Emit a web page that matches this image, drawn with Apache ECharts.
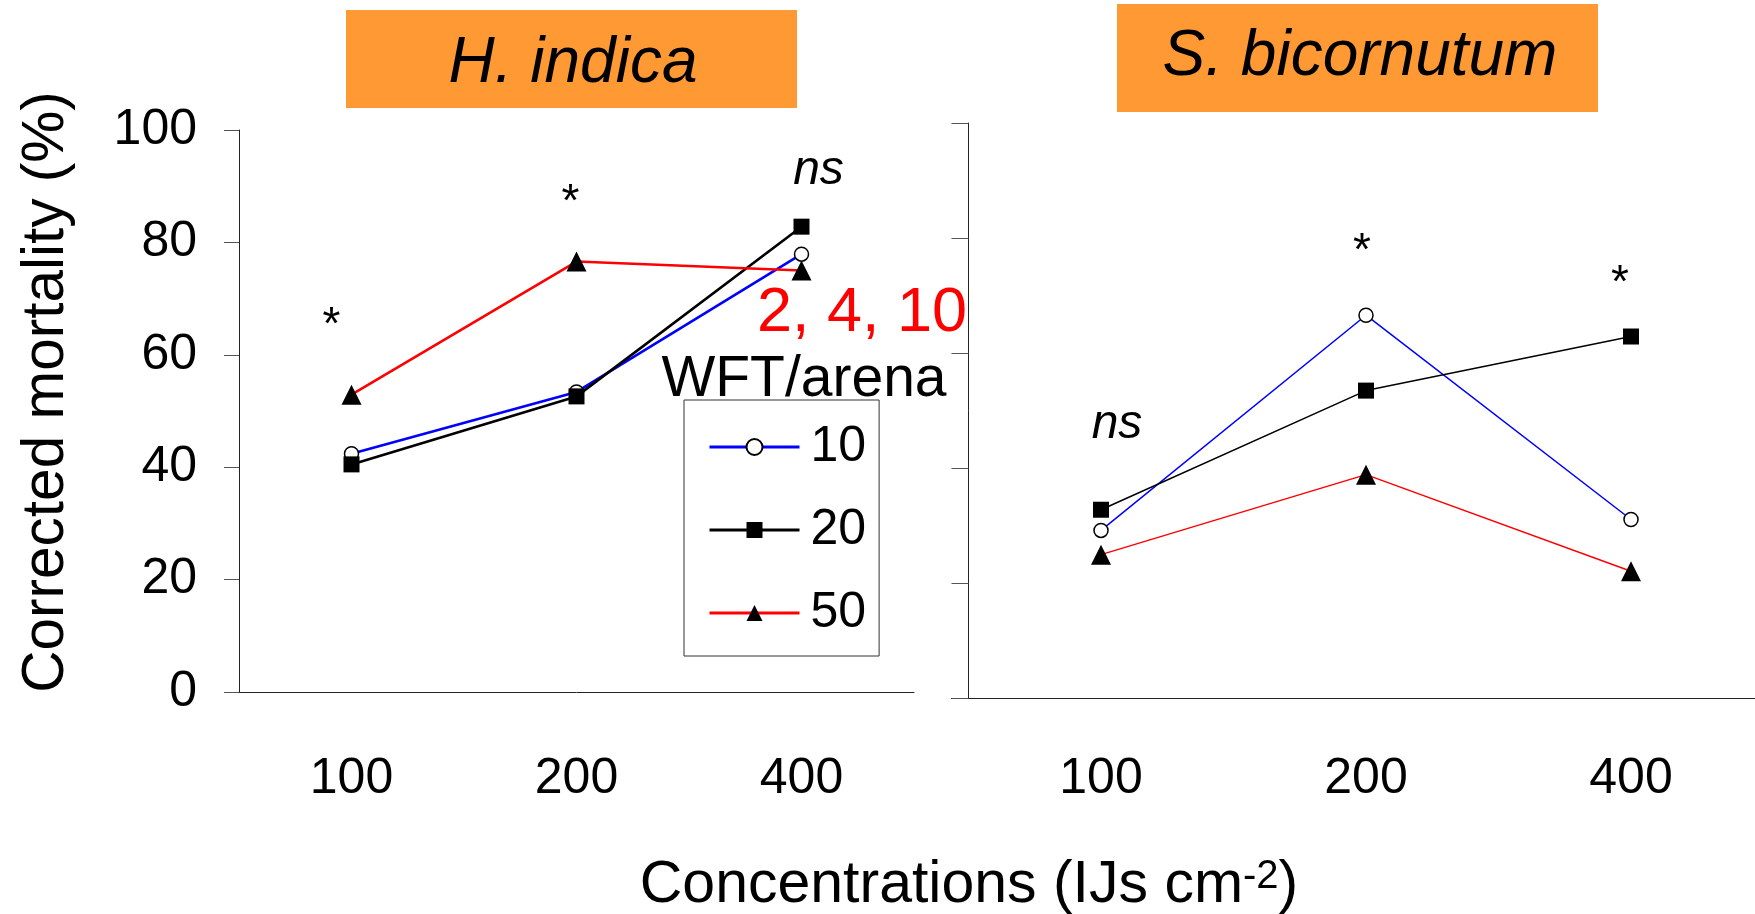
<!DOCTYPE html>
<html>
<head>
<meta charset="utf-8">
<title>Corrected mortality by concentration</title>
<script src="https://cdn.jsdelivr.net/npm/echarts@6/dist/echarts.min.js"></script>
<style>
  html, body { margin: 0; padding: 0; background: #fff; }
  #chart { width: 1755px; height: 914px; }
</style>
</head>
<body>
<div id="chart"></div>
<script>
// Concentrations (IJs cm-2) on the category axis
const categories = ['100', '200', '400'];
const yTicks = [0, 20, 40, 60, 80, 100];

// Corrected mortality (%) per WFT density (10, 20, 50 per arena)
const seriesNames = ['10', '20', '50'];
const hIndica10 = [42.4, 53.4, 77.9];
const hIndica20 = [40.5, 52.6, 82.8];
const hIndica50 = [52.9, 76.6, 75.0];
const sBicornutum10 = [29.2, 66.6, 31.1];
const sBicornutum20 = [32.8, 53.5, 62.9];
const sBicornutum50 = [25.0, 38.9, 22.1];

// Significance marks above each concentration
const marksHIndica = ['*', '*', 'ns'];
const marksHIndicaY = [65.1, 87.0, 92.8];
const marksSBicornutum = ['ns', '*', '*'];
const marksSBicornutumY = [47.6, 77.6, 72.0];

const panelTitles = ['H. indica', 'S. bicornutum'];
const legendTitle = 'WFT/arena';
const arenaNote = '2, 4, 10';

const FONT = "'Liberation Sans', Arial, Helvetica, sans-serif";
const colors = ['#0000ff', '#000000', '#ff0000'];
const symbols = ['circle', 'rect', 'triangle'];
const symbolSizes = [14, 16, 20];

const chart = echarts.init(document.getElementById('chart'), null, { renderer: 'canvas' });

function lineSeries(name, data, idx, axisIdx, width) {
  return {
    type: 'line',
    name: name,
    data: data,
    xAxisIndex: axisIdx,
    yAxisIndex: axisIdx,
    symbol: symbols[idx],
    symbolSize: symbolSizes[idx],
    showSymbol: true,
    lineStyle: { color: colors[idx], width: width },
    itemStyle: idx === 0
      ? { color: '#ffffff', borderColor: '#000000', borderWidth: 1.5 }
      : { color: '#000000', borderColor: '#000000', borderWidth: 0 },
    emphasis: { disabled: true },
    z: 3 + idx
  };
}

function markSeries(texts, ys, axisIdx, dx) {
  return {
    type: 'scatter',
    xAxisIndex: axisIdx,
    yAxisIndex: axisIdx,
    symbolSize: 0,
    silent: true,
    itemStyle: { opacity: 1 },
    data: texts.map((t, i) => ({
      value: [i, ys[i]],
      name: t,
      label: {
        show: true,
        position: 'inside',
        offset: [dx[i], 0],
        formatter: t,
        fontStyle: t === 'ns' ? 'italic' : 'normal',
        fontSize: t === 'ns' ? 48 : 46,
        fontFamily: FONT,
        color: '#000000',
        opacity: 1,
        textBorderWidth: 0
      }
    })),
    z: 10
  };
}

function xAxisDef(gridIdx, margin) {
  return {
    type: 'category',
    gridIndex: gridIdx,
    data: categories,
    boundaryGap: true,
    axisLine: { show: true, lineStyle: { color: '#222', width: 1 } },
    axisTick: { show: false },
    axisLabel: { show: true, margin: margin, fontSize: 50, fontFamily: FONT, color: '#000' },
    splitLine: { show: false }
  };
}

function yAxisDef(gridIdx, showLabels, tickLen) {
  return {
    type: 'value',
    gridIndex: gridIdx,
    min: yTicks[0],
    max: yTicks[yTicks.length - 1],
    interval: yTicks[1] - yTicks[0],
    axisLine: { show: true, lineStyle: { color: '#222', width: 1 } },
    axisTick: { show: true, length: tickLen, lineStyle: { color: '#555', width: 1 } },
    axisLabel: { show: showLabels, margin: 42, fontSize: 50, fontFamily: FONT, color: '#000' },
    splitLine: { show: false }
  };
}

const option = {
  animation: false,
  backgroundColor: '#ffffff',
  grid: [
    { left: 239, top: 130, width: 675, height: 562, outerBoundsMode: 'none', containLabel: false },
    { left: 968.5, top: 123, width: 795, height: 575.5, outerBoundsMode: 'none', containLabel: false }
  ],
  xAxis: [xAxisDef(0, 62), xAxisDef(1, 56)],
  yAxis: [yAxisDef(0, true, 15), yAxisDef(1, false, 17)],
  legend: {
    data: seriesNames,
    orient: 'vertical',
    left: 684,
    top: 400,
    padding: [22, 13, 18, 24],
    itemWidth: 90,
    itemHeight: 20,
    itemGap: 33,
    borderColor: '#333',
    borderWidth: 1,
    backgroundColor: 'rgba(255,255,255,0)',
    selectedMode: false,
    lineStyle: { width: 3 },
    textStyle: { fontSize: 50, fontFamily: FONT, color: '#000', padding: [0, 0, 0, 6] }
  },
  series: [
    lineSeries(seriesNames[0], hIndica10, 0, 0, 2.6),
    lineSeries(seriesNames[1], hIndica20, 1, 0, 2.6),
    lineSeries(seriesNames[2], hIndica50, 2, 0, 2.6),
    lineSeries(seriesNames[0], sBicornutum10, 0, 1, 1.5),
    lineSeries(seriesNames[1], sBicornutum20, 1, 1, 1.5),
    lineSeries(seriesNames[2], sBicornutum50, 2, 1, 1.5),
    markSeries(marksHIndica, marksHIndicaY, 0, [-20, -6, 17]),
    markSeries(marksSBicornutum, marksSBicornutumY, 1, [16, -4, -11])
  ],
  graphic: [
    // panel title boxes
    { type: 'rect', shape: { x: 346, y: 10, width: 451, height: 98 }, style: { fill: '#ff9933' }, z: 1 },
    { type: 'text', x: 573, y: 64, z: 2,
      style: { text: panelTitles[0], fontSize: 64, fontStyle: 'italic', fontFamily: FONT, fill: '#000', align: 'center', verticalAlign: 'middle' } },
    { type: 'rect', shape: { x: 1117, y: 4, width: 481, height: 108 }, style: { fill: '#ff9933' }, z: 1 },
    { type: 'text', x: 1360, y: 57, z: 2,
      style: { text: panelTitles[1], fontSize: 64, fontStyle: 'italic', fontFamily: FONT, fill: '#000', align: 'center', verticalAlign: 'middle' } },
    // x axis lines meet the y tick ends
    { type: 'line', shape: { x1: 224, y1: 692.5, x2: 239, y2: 692.5 }, style: { stroke: '#222', lineWidth: 1 } },
    { type: 'line', shape: { x1: 951, y1: 698.5, x2: 968.5, y2: 698.5 }, style: { stroke: '#222', lineWidth: 1 } },
    // y axis name
    { type: 'text', x: 47, y: 392, rotation: Math.PI / 2, z: 2,
      style: { text: 'Corrected mortality (%)', fontSize: 58.5, fontFamily: FONT, fill: '#000', align: 'center', verticalAlign: 'middle' } },
    // shared x axis name with superscript
    { type: 'text', x: 969, y: 886, z: 2,
      style: {
        text: '{a|Concentrations (IJs cm}{b|-2}{a|)}',
        align: 'center', verticalAlign: 'middle',
        rich: {
          a: { fontSize: 59, fontFamily: FONT, fill: '#000', color: '#000' },
          b: { fontSize: 40, fontFamily: FONT, fill: '#000', color: '#000', verticalAlign: 'top' }
        }
      } },
    // legend heading and arena note
    { type: 'text', x: 804, y: 380, z: 5,
      style: { text: legendTitle, fontSize: 57, fontFamily: FONT, fill: '#000', align: 'center', verticalAlign: 'middle' } },
    { type: 'text', x: 862, y: 314, z: 5,
      style: { text: arenaNote, fontSize: 63, fontFamily: FONT, fill: '#ff0000', align: 'center', verticalAlign: 'middle' } }
  ]
};

chart.setOption(option);
</script>
</body>
</html>
